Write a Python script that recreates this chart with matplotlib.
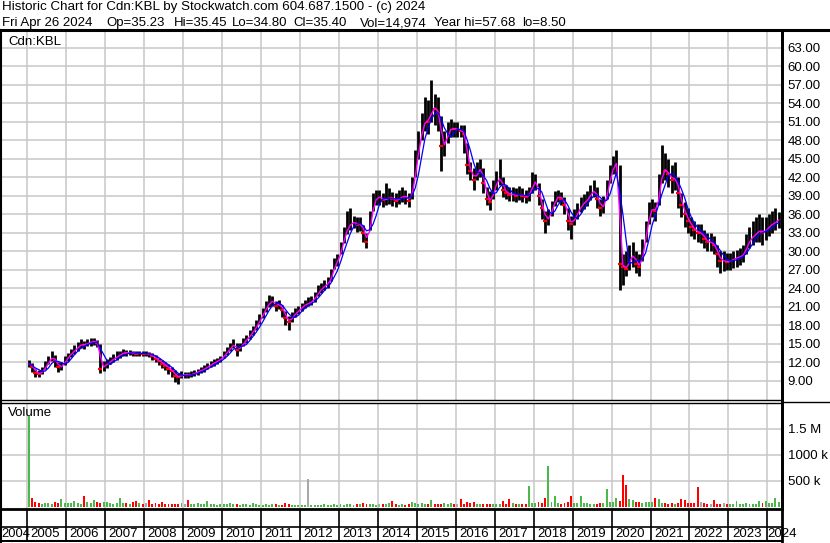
import numpy as np
import pandas as pd
import matplotlib
matplotlib.use("Agg")
import matplotlib.pyplot as plt
from matplotlib.lines import Line2D
from matplotlib.transforms import blended_transform_factory

plt.rcParams['font.family'] = ['Liberation Sans', 'DejaVu Sans']

# monthly values, Jan 2005 .. Apr 2024
price_close = [
    11.8, 11.2, 10.3, 10.1, 10.6, 11.4, 12.3, 13.0, 12.2, 11.2, 11.4, 12.3,  # 2005
    13.0, 13.6, 14.0, 14.6, 15.0, 14.8, 15.2, 15.3, 15.5, 15.2, 11.0, 11.5,  # 2006
    11.8, 12.3, 12.6, 13.0, 13.3, 13.6, 13.5, 13.6, 13.5, 13.4, 13.5, 13.4,  # 2007
    13.4, 13.3, 13.0, 12.6, 12.2, 11.8, 11.5, 11.0, 10.6, 9.8, 9.6, 10.0,    # 2008
    10.0, 9.9, 10.1, 10.3, 10.5, 10.8, 11.0, 11.4, 11.7, 12.0, 12.3, 12.6,   # 2009
    13.2, 13.8, 14.5, 15.0, 14.0, 14.5, 15.3, 15.8, 16.5, 17.2, 18.0, 19.0,  # 2010
    20.0, 21.0, 21.8, 22.0, 21.2, 21.5, 20.5, 19.2, 18.5, 19.5, 20.0, 20.5,  # 2011
    21.0, 21.5, 21.5, 22.0, 22.5, 23.5, 24.0, 24.5, 24.8, 26.0, 28.0, 28.5,  # 2012
    30.5, 32.5, 34.0, 34.5, 34.8, 34.3, 34.5, 33.0, 31.5, 35.0, 38.0, 38.8,  # 2013
    38.8, 38.3, 38.5, 38.8, 38.5, 38.2, 38.6, 39.0, 38.8, 38.2, 40.0, 44.0,  # 2014
    47.5, 50.0, 51.5, 51.0, 53.5, 53.0, 52.5, 47.0, 47.5, 49.5, 50.0, 49.8,  # 2015
    49.8, 49.5, 49.0, 44.0, 43.0, 41.5, 43.0, 43.5, 41.0, 38.5, 38.0, 40.0,  # 2016
    41.5, 42.0, 40.0, 39.5, 39.2, 39.3, 39.0, 39.4, 39.0, 38.8, 39.2, 41.0,  # 2017
    41.5, 39.0, 37.0, 35.0, 35.5, 37.0, 38.5, 39.0, 38.5, 37.5, 35.0, 34.5,  # 2018
    35.5, 36.5, 37.5, 38.0, 38.5, 39.5, 40.0, 38.5, 37.0, 37.5, 40.0, 42.5,  # 2019
    44.0, 44.5, 28.0, 27.5, 27.2, 29.0, 29.5, 28.0, 27.5, 30.0, 33.5, 36.5,  # 2020
    37.0, 36.5, 40.0, 43.5, 43.0, 42.5, 41.5, 42.0, 39.5, 37.5, 36.0, 35.0,  # 2021
    34.0, 33.5, 33.0, 33.0, 32.0, 31.5, 31.5, 31.0, 29.5, 28.5, 28.5, 28.2,  # 2022
    28.5, 28.8, 29.0, 29.2, 29.5, 31.0, 32.0, 32.5, 33.0, 33.5, 33.0, 33.5,  # 2023
    34.2, 34.5, 34.8, 35.4,                                                  # 2024
]
price_high = [
    12.4, 11.9, 11.0, 10.8, 11.3, 12.2, 13.0, 13.8, 13.2, 12.0, 12.0, 13.0,
    13.6, 14.2, 14.8, 15.3, 15.8, 15.5, 15.8, 15.9, 16.0, 15.6, 15.0, 12.3,
    12.5, 12.9, 13.3, 13.8, 13.9, 14.1, 14.0, 14.0, 13.9, 13.8, 13.9, 13.8,
    13.8, 13.7, 13.5, 13.2, 12.8, 12.4, 12.0, 11.8, 11.3, 10.8, 10.3, 10.6,
    10.5, 10.4, 10.6, 10.8, 11.0, 11.3, 11.6, 11.9, 12.2, 12.5, 12.8, 13.1,
    13.8, 14.5, 15.2, 15.8, 15.2, 15.2, 16.0, 16.5, 17.2, 17.9, 18.8, 19.8,
    20.8, 21.9, 22.9, 22.8, 22.0, 22.2, 21.3, 20.3, 19.5, 20.2, 20.8, 21.2,
    21.7, 22.2, 22.6, 22.8, 23.4, 24.5, 24.8, 25.3, 25.8, 27.2, 29.0, 29.5,
    31.5, 34.0, 36.5, 37.0, 35.8, 35.5, 35.5, 34.2, 33.0, 36.5, 39.5, 40.0,
    40.0, 39.5, 41.0, 40.2, 39.6, 39.4, 40.0, 40.5, 40.0, 39.5, 42.0, 46.5,
    49.5, 52.5, 55.0, 54.5, 57.7, 55.5, 55.0, 52.0, 49.5, 51.0, 51.5, 51.0,
    51.0, 50.5, 50.5, 47.5, 44.5, 43.5, 44.5, 45.0, 43.5, 40.5, 39.8, 41.5,
    43.0, 44.9, 42.0, 40.8, 40.5, 40.5, 40.3, 40.6, 40.3, 40.0, 40.5, 42.8,
    42.5, 41.0, 38.5, 36.5, 36.8, 38.2, 39.8, 40.0, 39.7, 38.8, 37.0, 35.8,
    36.8, 37.8, 38.8, 39.3, 39.8, 40.8, 41.6, 40.5, 38.5, 39.0, 41.5, 44.0,
    45.5, 46.4, 44.0, 29.5, 30.0, 31.0, 31.5, 30.0, 29.5, 32.0, 35.0, 38.0,
    38.5, 38.0, 42.5, 47.3, 46.0, 45.0, 44.0, 44.5, 42.0, 39.5, 38.0, 37.0,
    35.5, 35.0, 34.5, 34.5, 33.5, 33.0, 33.0, 32.5, 31.0, 30.0, 30.0, 29.8,
    29.8, 30.0, 30.2, 30.5, 31.0, 32.8, 34.0, 35.0, 35.5, 36.0, 35.5, 35.5,
    36.0, 36.5, 37.0, 36.3,
]
price_low = [
    11.2, 10.5, 9.6, 9.7, 10.1, 10.9, 11.7, 12.3, 11.2, 10.4, 10.8, 11.6,
    12.3, 12.9, 13.3, 13.9, 14.4, 14.2, 14.6, 14.7, 14.8, 14.5, 10.3, 10.6,
    11.1, 11.7, 12.0, 12.4, 12.8, 13.1, 13.1, 13.2, 13.1, 13.0, 13.1, 13.0,
    13.0, 12.9, 12.4, 12.0, 11.6, 11.1, 10.8, 10.2, 9.6, 8.9, 8.5, 9.4,
    9.5, 9.4, 9.6, 9.8, 10.0, 10.3, 10.5, 10.9, 11.2, 11.5, 11.8, 12.1,
    12.7, 13.2, 13.9, 14.3, 13.0, 13.8, 14.6, 15.1, 15.8, 16.5, 17.2, 18.2,
    19.2, 20.2, 21.0, 21.2, 20.4, 20.6, 19.3, 18.0, 17.3, 18.5, 19.3, 19.8,
    20.3, 20.8, 21.1, 21.3, 21.8, 22.7, 23.3, 23.8, 24.1, 25.2, 27.2, 27.7,
    29.5, 31.3, 32.8, 33.5, 33.8, 33.2, 33.3, 31.5, 30.5, 33.5, 36.5, 37.5,
    37.5, 37.2, 37.5, 37.7, 37.4, 37.2, 37.6, 38.0, 37.7, 37.2, 38.5, 42.0,
    45.0, 48.0, 49.5, 49.0, 51.0, 50.5, 49.5, 43.0, 45.5, 47.5, 48.5, 48.5,
    48.5, 48.5, 46.0, 42.5, 41.5, 40.0, 41.5, 42.0, 39.5, 37.5, 36.7, 38.5,
    40.0, 40.8, 38.8, 38.5, 38.2, 38.2, 38.0, 38.3, 38.0, 37.8, 38.2, 39.5,
    40.0, 37.5, 35.2, 33.0, 34.3, 35.8, 37.3, 38.0, 37.5, 36.0, 33.5, 32.0,
    34.2, 35.3, 36.3, 36.8, 37.3, 38.3, 38.8, 37.0, 35.8, 36.2, 38.5, 41.0,
    42.5, 42.5, 23.7, 24.5, 26.0, 27.0, 27.5, 26.5, 26.0, 28.5, 31.5, 34.5,
    35.5, 35.0, 37.5, 41.0, 41.5, 40.5, 39.5, 40.0, 37.0, 35.5, 34.0, 33.0,
    32.5, 32.0, 31.5, 31.3, 30.5, 30.0, 30.0, 29.5, 27.5, 26.5, 26.8, 27.0,
    27.0, 27.3, 27.5, 27.8, 28.2, 29.5, 30.5, 31.0, 31.5, 31.5, 31.0, 31.8,
    32.5, 33.0, 33.5, 33.8,
]
volume_k = [
    1750, 170, 90, 60, 50, 70, 60, 55, 80, 60, 150, 60,
    70, 60, 100, 60, 50, 210, 90, 60, 130, 80, 70, 90,
    80, 60, 50, 60, 160, 70, 60, 50, 80, 110, 60, 50,
    60, 130, 50, 60, 50, 90, 50, 40, 50, 40, 50, 60,
    40, 130, 50, 40, 60, 50, 40, 100, 50, 40, 30, 40,
    40, 50, 70, 40, 40, 30, 40, 50, 30, 70, 40, 30,
    30, 40, 30, 40, 50, 30, 30, 60, 40, 30, 20, 30,
    20, 20, 520, 20, 30, 20, 30, 40, 30, 30, 40, 30,
    40, 30, 50, 40, 30, 40, 50, 60, 40, 50, 40, 30,
    50, 40, 40, 60, 100, 40, 30, 40, 30, 40, 90, 60,
    50, 60, 40, 40, 130, 40, 50, 40, 60, 50, 60, 40,
    50, 150, 40, 90, 60, 90, 40, 50, 40, 40, 50, 40,
    40, 50, 100, 40, 150, 60, 40, 50, 40, 40, 400, 60,
    60, 80, 60, 170, 770, 80, 200, 60, 50, 70, 90, 200,
    60, 60, 200, 60, 70, 50, 50, 40, 60, 60, 340, 80,
    90, 170, 100, 600, 420, 150, 120, 90, 80, 70, 80, 90,
    80, 170, 150, 70, 60, 50, 60, 50, 70, 150, 130, 60,
    60, 60, 380, 80, 60, 50, 50, 120, 50, 40, 60, 50,
    50, 40, 100, 50, 40, 60, 50, 40, 50, 100, 60, 110,
    60, 60, 170, 80,
]
price_ticks = list(range(9, 64, 3))
vol_ticks = [500000, 1000000, 1500000]
vol_tick_labels = ['500 k', '1000 k', '1.5 M']
years = list(range(2004, 2025))

months = pd.date_range('2005-01-01', periods=len(price_close), freq='MS')
df = pd.DataFrame({'close': price_close, 'high': price_high, 'low': price_low,
                   'vol': np.array(volume_k) * 1000}, index=months)
df['t'] = df.index.year + (df.index.month - 0.5) / 12
df['ma_fast'] = df['close'].rolling(2, min_periods=1).mean()
df['ma_slow'] = df['close'].rolling(4, min_periods=1).mean()
chg = df['close'].diff().fillna(1)
vcol = np.where(chg > 0, '#4cb84c', np.where(chg < 0, '#ff0000', '#a8a8a8'))

W, H = 830, 543
fig = plt.figure(figsize=(W / 100, H / 100), dpi=100)

def fx(px):
    return px / W

def fy(py):
    return 1 - py / H

x0_px, px_per_year = 27.3, 38.95
xmin = 2005 - x0_px / px_per_year
xmax = 2005 + (782 - x0_px) / px_per_year
grid_c = '#c8c8c8'

# price panel
ax1 = fig.add_axes([0, fy(400), fx(782), fy(31) - fy(400)])
ax1.set_xlim(xmin, xmax)
ax1.set_ylim(9 - 19 / 6.16, 63 + 16.7 / 6.16)
ax1.set_xticks(years[1:])
ax1.set_yticks(price_ticks)
ax1.set_yticklabels([f'{v:.2f}' for v in price_ticks])
ax1.grid(True, color=grid_c, lw=1.1)
ax1.set_axisbelow(True)
ax1.tick_params(axis='x', length=0, labelbottom=False)
ax1.tick_params(axis='y', length=0, left=False, labelleft=False, right=False,
                labelright=True, pad=4, labelsize=9.5)
ax1.vlines(df['t'], df['low'], df['high'], color='black', lw=2.0)
down = chg < 0
ax1.plot(df['t'][down], df['close'][down], ls='none', marker='_', ms=3,
         mew=1.6, color='red')
ax1.plot(df['t'], df['ma_fast'], color='#ff00ff', lw=1.0)
ax1.plot(df['t'], df['ma_slow'], color='#0000ff', lw=0.9)
ax1.text(fx(8), fy(42), 'Cdn:KBL', transform=fig.transFigure, fontsize=9.5,
         va='center', ha='left')
for s in ax1.spines.values():
    s.set_color('black')
ax1.spines['left'].set_linewidth(1.5)
ax1.spines['right'].set_linewidth(2)
ax1.spines['top'].set_visible(False)
ax1.spines['bottom'].set_linewidth(1)

# volume panel
ax2 = fig.add_axes([0, fy(509), fx(782), fy(402.5) - fy(509)])
ax2.set_xlim(xmin, xmax)
ax2.set_ylim(-2.5 / 52 * 1e6, (506.5 - 402.5) / 52 * 1e6)
ax2.bar(df['t'], df['vol'], width=0.6 / 12, color=vcol, linewidth=0)
ax2.set_xticks(years[1:])
ax2.set_yticks(vol_ticks)
ax2.set_yticklabels(vol_tick_labels)
ax2.grid(True, color=grid_c, lw=1.1)
ax2.set_axisbelow(True)
ax2.tick_params(axis='x', length=0, labelbottom=False)
ax2.tick_params(axis='y', length=0, left=False, labelleft=False, right=False,
                labelright=True, pad=4, labelsize=9.5)
ax2.text(fx(8), fy(413), 'Volume', transform=fig.transFigure, fontsize=9.5,
         va='center', ha='left')
for s in ax2.spines.values():
    s.set_color('black')
ax2.spines['left'].set_linewidth(1.5)
ax2.spines['right'].set_linewidth(2)
ax2.spines['top'].set_linewidth(1)
ax2.spines['bottom'].set_linewidth(2)

# year strip
ax3 = fig.add_axes([0, fy(542), fx(782), fy(509) - fy(542)])
ax3.set_xlim(xmin, xmax)
ax3.set_ylim(0, 1)
ax3.axis('off')
ax3.axhline((542 - 527) / 33, color='black', lw=1.2)
ax3.axhline(0.02, color='black', lw=1.5)
for yr in years[1:]:
    ax3.axvline(yr, color='black', lw=1.2)
fig_x = blended_transform_factory(fig.transFigure, ax3.transAxes)
for yr in years:
    if yr == 2004:
        ax3.text(fx(1), 0.24, str(yr), ha='left', va='center', fontsize=9.3,
                 transform=fig_x)
    elif yr == 2024:
        ax3.text(yr + 0.3 / px_per_year, 0.24, str(yr), ha='left',
                 va='center', fontsize=9.5, clip_on=False)
    else:
        ax3.text(yr + 3.5 / px_per_year, 0.24, str(yr), ha='left',
                 va='center', fontsize=9.5)

# frame lines
fig.add_artist(Line2D([0, 1], [fy(30), fy(30)], color='black', lw=2.2))
fig.add_artist(Line2D([fx(782), 1], [fy(402), fy(402)], color='black', lw=1))
fig.add_artist(Line2D([fx(782), fx(782)], [fy(30), fy(543)], color='black', lw=2))
fig.add_artist(Line2D([fx(0.8), fx(0.8)], [fy(30), fy(543)], color='black', lw=1.5))

# header
fig.text(fx(2), fy(7), 'Historic Chart for Cdn:KBL by Stockwatch.com 604.687.1500 - (c) 2024',
         fontsize=9.6, va='center', ha='left')
header2 = [('Fri Apr 26 2024', 2), ('Op=35.23', 106), ('Hi=35.45', 174),
           ('Lo=34.80', 232), ('Cl=35.40', 293), ('Vol=14,974', 360),
           ('Year hi=57.68', 434), ('lo=8.50', 522)]
for txt, px in header2:
    fig.text(fx(px), fy(23), txt, fontsize=9.5, va='center', ha='left')

fig.savefig('out.png', dpi=100)
